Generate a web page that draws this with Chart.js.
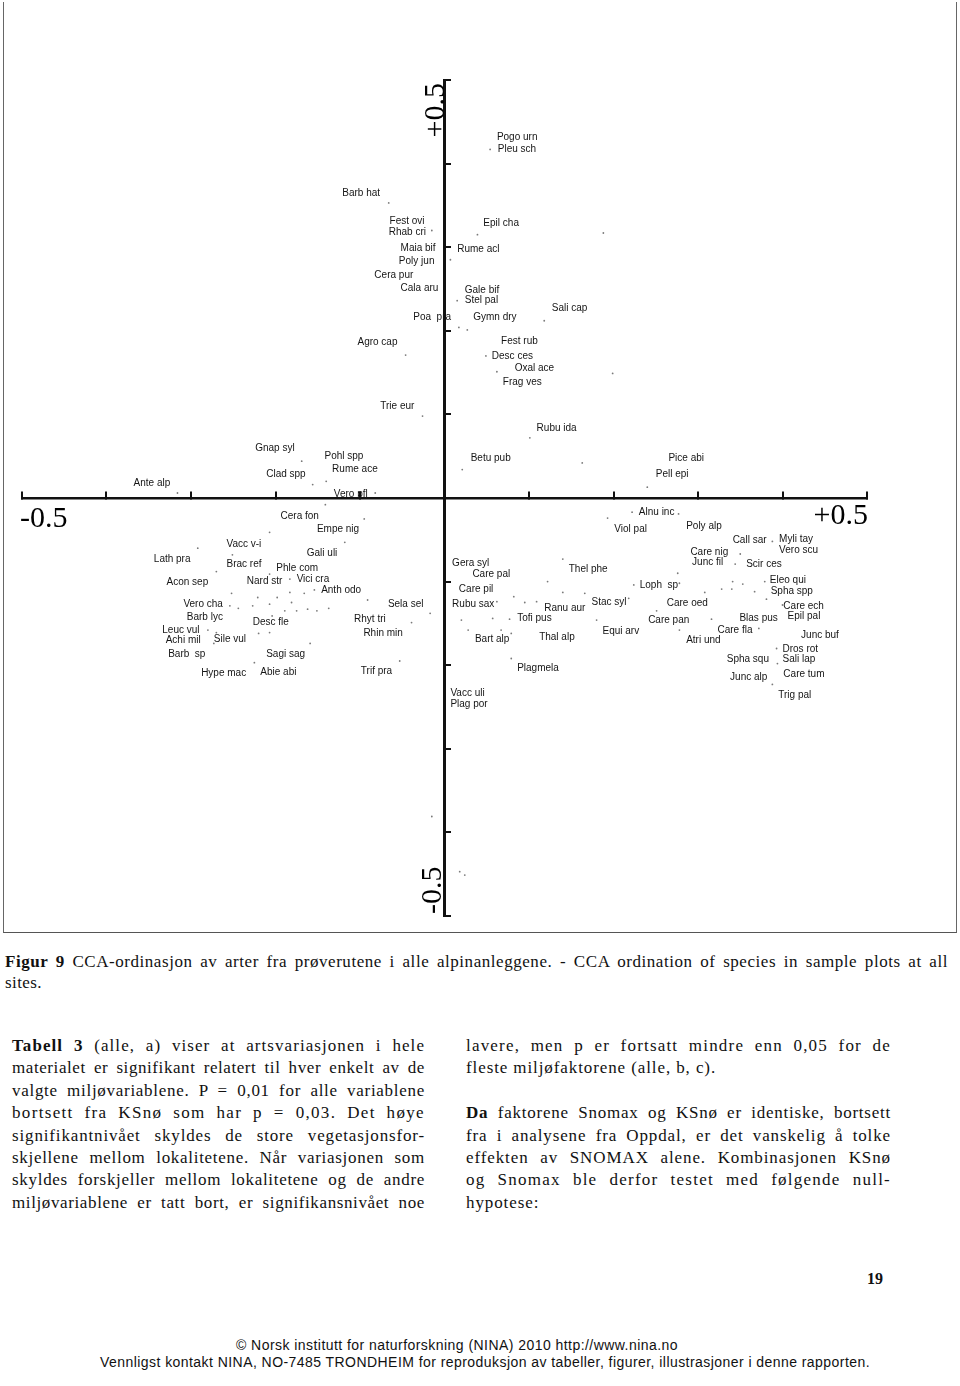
<!DOCTYPE html>
<html>
<head>
<meta charset="utf-8">
<script src="https://cdn.jsdelivr.net/npm/chart.js@4.4.0/dist/chart.umd.min.js"></script>
<style>
  body { margin: 0; background: #fff; width: 960px; height: 1386px; position: relative; overflow: hidden; }
  #wrap { position: absolute; left: 0; top: 0; width: 960px; height: 945px; }
  #frame { position: absolute; left: 3px; top: 2px; width: 952px; height: 930px; border-left: 1px solid #666; border-right: 1px solid #666; border-bottom: 1px solid #555; }
  .serif { font-family: "Liberation Serif", "DejaVu Serif", serif; color: #111; }
  .cap { position: absolute; left: 5px; font-size: 17px; line-height: 21px; }
  .col { position: absolute; font-size: 17px; line-height: 22.4px; }
  .line { height: 22.4px; white-space: nowrap; }
  .foot { position: absolute; font-family: "Liberation Sans", Arial, sans-serif; font-size: 14px; color: #111; white-space: nowrap; }
</style>
</head>
<body>
<div id="frame"></div>
<div id="wrap"><canvas id="cca" width="960" height="945"></canvas></div>

<div class="cap serif" style="top: 951px;">
  <div><span class="fit" data-w="943"><b>Figur 9</b> CCA-ordinasjon av arter fra prøverutene i alle alpinanleggene. - CCA ordination of species in sample plots at all</span></div>
  <div><span class="fit" data-ls="0.4">sites.</span></div>
</div>

<div class="col serif" style="left: 12px; top: 1035px;">
  <div class="line"><span class="fit" data-w="413"><b>Tabell 3</b> (alle, a) viser at artsvariasjonen i hele</span></div>
  <div class="line"><span class="fit" data-w="413">materialet er signifikant relatert til hver enkelt av de</span></div>
  <div class="line"><span class="fit" data-w="413">valgte miljøvariablene. P = 0,01 for alle variablene</span></div>
  <div class="line"><span class="fit" data-w="413">bortsett fra KSnø som har p = 0,03. Det høye</span></div>
  <div class="line"><span class="fit" data-w="413">signifikantnivået skyldes de store vegetasjonsfor-</span></div>
  <div class="line"><span class="fit" data-w="413">skjellene mellom lokalitetene. Når variasjonen som</span></div>
  <div class="line"><span class="fit" data-w="413">skyldes forskjeller mellom lokalitetene og de andre</span></div>
  <div class="line"><span class="fit" data-w="413">miljøvariablene er tatt bort, er signifikansnivået noe</span></div>
</div>

<div class="col serif" style="left: 466px; top: 1035px;">
  <div class="line"><span class="fit" data-w="425">lavere, men p er fortsatt mindre enn 0,05 for de</span></div>
  <div class="line"><span class="fit" data-ls="0.9">fleste miljøfaktorene (alle, b, c).</span></div>
  <div class="line"></div>
  <div class="line"><span class="fit" data-w="425"><b>Da</b> faktorene Snomax og KSnø er identiske, bortsett</span></div>
  <div class="line"><span class="fit" data-w="425">fra i analysene fra Oppdal, er det vanskelig å tolke</span></div>
  <div class="line"><span class="fit" data-w="425">effekten av SNOMAX alene. Kombinasjonen KSnø</span></div>
  <div class="line"><span class="fit" data-w="425">og Snomax ble derfor testet med følgende null-</span></div>
  <div class="line"><span class="fit" data-ls="0.9">hypotese:</span></div>
</div>

<div class="serif" style="position: absolute; left: 867px; top: 1270px; font-size: 16px; font-weight: bold;">19</div>

<div class="foot" style="left: 236px; top: 1337px;"><span class="fit" data-ls="0.45">© Norsk institutt for naturforskning (NINA) 2010 http://www.nina.no</span></div>
<div class="foot" style="left: 100px; top: 1354px;"><span class="fit" data-w="770" data-share="1">Vennligst kontakt NINA, NO-7485 TRONDHEIM for reproduksjon av tabeller, figurer, illustrasjoner i denne rapporten.</span></div>

<script>
// Species labels and their scores on CCA axis 1 (x) and axis 2 (y)
const speciesNames = [
    'Pogo urn', 'Pleu sch', 'Barb hat', 'Fest ovi', 'Rhab cri', 'Epil cha', 'Maia bif', 'Rume acl',
    'Poly jun', 'Cera pur', 'Cala aru', 'Gale bif', 'Stel pal', 'Sali cap', 'Poa  pra', 'Gymn dry',
    'Agro cap', 'Fest rub', 'Desc ces', 'Oxal ace', 'Frag ves', 'Trie eur', 'Rubu ida',
    'Gnap syl', 'Pohl spp', 'Rume ace', 'Clad spp', 'Ante alp', 'Vero pfl', 'Cera fon', 'Empe nig',
    'Vacc v-i', 'Gali uli', 'Lath pra', 'Brac ref', 'Phle com', 'Acon sep', 'Nard str', 'Vici cra',
    'Anth odo', 'Vero cha', 'Sela sel', 'Barb lyc', 'Desc fle', 'Rhyt tri', 'Leuc vul', 'Rhin min',
    'Achi mil', 'Sile vul', 'Barb  sp', 'Sagi sag', 'Hype mac', 'Abie abi', 'Trif pra',
    'Betu pub', 'Pice abi', 'Pell epi', 'Alnu inc', 'Viol pal', 'Poly alp', 'Call sar', 'Myli tay',
    'Vero scu', 'Care nig', 'Junc fil', 'Scir ces', 'Gera syl', 'Thel phe', 'Care pal', 'Care pil',
    'Loph  sp', 'Eleo qui', 'Spha spp', 'Rubu sax', 'Ranu aur', 'Stac syl', 'Care oed', 'Care ech',
    'Tofi pus', 'Care pan', 'Blas pus', 'Epil pal', 'Equi arv', 'Care fla', 'Bart alp', 'Thal alp',
    'Atri und', 'Junc buf', 'Dros rot', 'Sali lap', 'Spha squ', 'Plagmela', 'Care tum', 'Junc alp',
    'Vacc uli', 'Trig pal', 'Plag por'
];

const speciesX = [
    0.062, 0.063, -0.121, -0.065, -0.066, 0.046, -0.052, 0.015,
    -0.054, -0.083, -0.052, 0.024, 0.024, 0.127, -0.037, 0.034,
    -0.103, 0.067, 0.056, 0.083, 0.069, -0.076, 0.109,
    -0.224, -0.142, -0.133, -0.211, -0.368, -0.131, -0.194, -0.151,
    -0.258, -0.163, -0.344, -0.258, -0.199, -0.329, -0.234, -0.175,
    -0.146, -0.309, -0.067, -0.305, -0.227, -0.107, -0.334, -0.096,
    -0.330, -0.273, -0.327, -0.211, -0.288, -0.218, -0.099,
    0.031, 0.265, 0.250, 0.230, 0.201, 0.286, 0.341, 0.396,
    0.396, 0.291, 0.293, 0.357, 0.009, 0.147, 0.033, 0.017,
    0.231, 0.385, 0.386, 0.009, 0.118, 0.174, 0.263, 0.401,
    0.086, 0.241, 0.349, 0.406, 0.187, 0.323, 0.036, 0.112,
    0.286, 0.422, 0.400, 0.400, 0.334, 0.086, 0.401, 0.338,
    0.007, 0.395, 0.007
];

const speciesY = [
    0.432, 0.417, 0.364, 0.331, 0.318, 0.329, 0.299, 0.297,
    0.283, 0.267, 0.251, 0.248, 0.237, 0.227, 0.216, 0.216,
    0.186, 0.187, 0.170, 0.155, 0.138, 0.110, 0.083,
    0.059, 0.050, 0.034, 0.029, 0.018, 0.005, -0.022, -0.037,
    -0.055, -0.066, -0.073, -0.079, -0.084, -0.101, -0.100, -0.097,
    -0.110, -0.127, -0.127, -0.143, -0.149, -0.145, -0.158, -0.162,
    -0.170, -0.169, -0.187, -0.187, -0.210, -0.209, -0.207,
    0.047, 0.047, 0.029, -0.017, -0.037, -0.034, -0.050, -0.049,
    -0.062, -0.065, -0.077, -0.079, -0.078, -0.085, -0.091, -0.109,
    -0.104, -0.098, -0.112, -0.127, -0.132, -0.125, -0.126, -0.129,
    -0.144, -0.146, -0.144, -0.141, -0.159, -0.158, -0.169, -0.167,
    -0.170, -0.164, -0.181, -0.193, -0.193, -0.204, -0.211, -0.215,
    -0.234, -0.236, -0.247
];

// Small unlabelled points printed on the plot
const dotX = [
    0.054, -0.066, -0.015, 0.039, 0.188, 0.007, 0.015, 0.118, 0.017, 0.027,
    -0.046, 0.049, 0.062, 0.199, -0.026, 0.101, -0.169, -0.316, -0.156, -0.140,
    -0.082, -0.141, -0.095, -0.207, -0.118, -0.292, -0.251, -0.270, -0.207, -0.183,
    -0.252, -0.221, -0.198, -0.183, -0.166, -0.154, -0.181, -0.091, -0.254, -0.244,
    -0.227, -0.207, -0.189, -0.175, -0.162, -0.151, -0.137, -0.204, -0.017, -0.039,
    -0.280, -0.270, -0.220, -0.207, -0.159, -0.273, -0.225, -0.053, 0.021, 0.163,
    0.240, 0.222, 0.277, 0.193, 0.388, 0.350, 0.344, 0.140, 0.122, 0.224,
    0.276, 0.278, 0.341, 0.353, 0.379, 0.367, 0.340, 0.328, 0.308, 0.140,
    0.166, 0.082, 0.109, 0.095, 0.062, 0.218, 0.251, 0.381, 0.400, 0.020,
    0.057, 0.077, 0.180, 0.316, 0.278, 0.372, 0.028, 0.067, 0.079, 0.079,
    0.393, 0.394, 0.388, -0.015, 0.018, 0.024
];

const dotY = [
    0.417, 0.353, 0.320, 0.315, 0.317, 0.285, 0.236, 0.212, 0.204, 0.201,
    0.171, 0.170, 0.151, 0.149, 0.098, 0.072, 0.044, 0.006, 0.016, 0.020,
    0.006, -0.008, -0.025, -0.041, -0.053, -0.060, -0.068, -0.088, -0.091, -0.097,
    -0.114, -0.119, -0.119, -0.113, -0.114, -0.110, -0.125, -0.122, -0.129, -0.132,
    -0.129, -0.127, -0.135, -0.135, -0.133, -0.135, -0.132, -0.141, -0.138, -0.149,
    -0.158, -0.161, -0.162, -0.161, -0.174, -0.174, -0.197, -0.195, 0.034, 0.042,
    0.013, -0.017, -0.019, -0.024, -0.052, -0.067, -0.079, -0.073, -0.100, -0.104,
    -0.090, -0.102, -0.100, -0.103, -0.100, -0.112, -0.109, -0.109, -0.113, -0.113,
    -0.114, -0.118, -0.124, -0.125, -0.124, -0.120, -0.135, -0.121, -0.128, -0.146,
    -0.144, -0.145, -0.146, -0.145, -0.158, -0.156, -0.158, -0.158, -0.162, -0.192,
    -0.180, -0.198, -0.223, -0.381, -0.447, -0.451
];

// Axis range and tick step
const axisMin = -0.5;
const axisMax = 0.5;
const axisStep = 0.1;
const endLabels = ['-0.5', '+0.5'];

// stretch printed lines to their column width (justified look of the scan)
document.querySelectorAll('.fit').forEach(el => {
    el.style.display = 'inline-block';
    el.style.whiteSpace = 'nowrap';
    if (el.dataset.ls) {
        el.style.letterSpacing = el.dataset.ls + 'px';
        return;
    }
    const target = parseFloat(el.dataset.w);
    const share = el.dataset.share ? parseFloat(el.dataset.share) : 0.55;
    const text = el.textContent;
    const spaces = (text.match(/ /g) || []).length;
    const extra = target - el.getBoundingClientRect().width;
    el.style.letterSpacing = (extra * share / text.length) + 'px';
    const rest = target - el.getBoundingClientRect().width;
    if (spaces > 0) el.style.wordSpacing = (rest / spaces) + 'px';
});

const speciesPoints = speciesX.map((x, i) => ({ x: x, y: speciesY[i] }));
const dotPoints = dotX.map((x, i) => ({ x: x, y: dotY[i] }));

// write species names next to their scores, and the +/-0.5 end labels
const labelPlugin = {
    id: 'speciesLabels',
    afterDatasetsDraw(chart) {
        const ctx = chart.ctx;
        const xs = chart.scales.x;
        const ys = chart.scales.y;
        ctx.save();
        ctx.fillStyle = '#151515';
        ctx.font = '10px "Liberation Sans", Arial, sans-serif';
        ctx.textAlign = 'left';
        ctx.textBaseline = 'middle';
        speciesNames.forEach((name, i) => {
            ctx.fillText(name, xs.getPixelForValue(speciesX[i]), ys.getPixelForValue(speciesY[i]));
        });

        const zeroX = xs.getPixelForValue(0);
        const zeroY = ys.getPixelForValue(0);
        ctx.font = '30px "Liberation Serif", "Times New Roman", serif';
        ctx.fillStyle = '#000';
        ctx.textBaseline = 'top';
        ctx.textAlign = 'left';
        ctx.fillText(endLabels[0], xs.getPixelForValue(axisMin) - 2, zeroY + 6);
        ctx.textAlign = 'right';
        ctx.fillText(endLabels[1], xs.getPixelForValue(axisMax) + 1, zeroY + 3);

        // vertical axis labels, rotated
        ctx.textBaseline = 'alphabetic';
        ctx.save();
        ctx.translate(zeroX - 1, ys.getPixelForValue(axisMax) + 3);
        ctx.rotate(-Math.PI / 2);
        ctx.textAlign = 'right';
        ctx.fillText(endLabels[1], 0, 0);
        ctx.restore();
        ctx.save();
        ctx.translate(zeroX - 4, ys.getPixelForValue(axisMin) - 2);
        ctx.rotate(-Math.PI / 2);
        ctx.textAlign = 'left';
        ctx.fillText(endLabels[0], 0, 0);
        ctx.restore();
        ctx.restore();
    }
};

const ctxCca = document.getElementById('cca').getContext('2d');
new Chart(ctxCca, {
    type: 'scatter',
    data: {
        datasets: [{
            label: 'Species',
            data: speciesPoints,
            pointRadius: 0,
            pointHoverRadius: 0
        }, {
            label: 'Points',
            data: dotPoints,
            pointRadius: 0.9,
            pointHoverRadius: 0.9,
            borderWidth: 0,
            backgroundColor: '#7a7a7a'
        }]
    },
    options: {
        responsive: false,
        animation: false,
        layout: {
            padding: { left: 22, right: 93, top: 80, bottom: 29 }
        },
        plugins: {
            legend: { display: false },
            tooltip: { enabled: false }
        },
        scales: {
            x: {
                type: 'linear',
                min: axisMin,
                max: axisMax,
                position: { y: 0 },
                ticks: { stepSize: axisStep, display: false },
                grid: { drawOnChartArea: false, tickLength: -8, color: '#111', lineWidth: 2 },
                border: { color: '#111', width: 2.5 }
            },
            y: {
                type: 'linear',
                min: axisMin,
                max: axisMax,
                position: { x: 0 },
                ticks: { stepSize: axisStep, display: false },
                grid: { drawOnChartArea: false, tickLength: -8, color: '#111', lineWidth: 2 },
                border: { color: '#111', width: 3 }
            }
        }
    },
    plugins: [labelPlugin]
});
</script>
</body>
</html>
